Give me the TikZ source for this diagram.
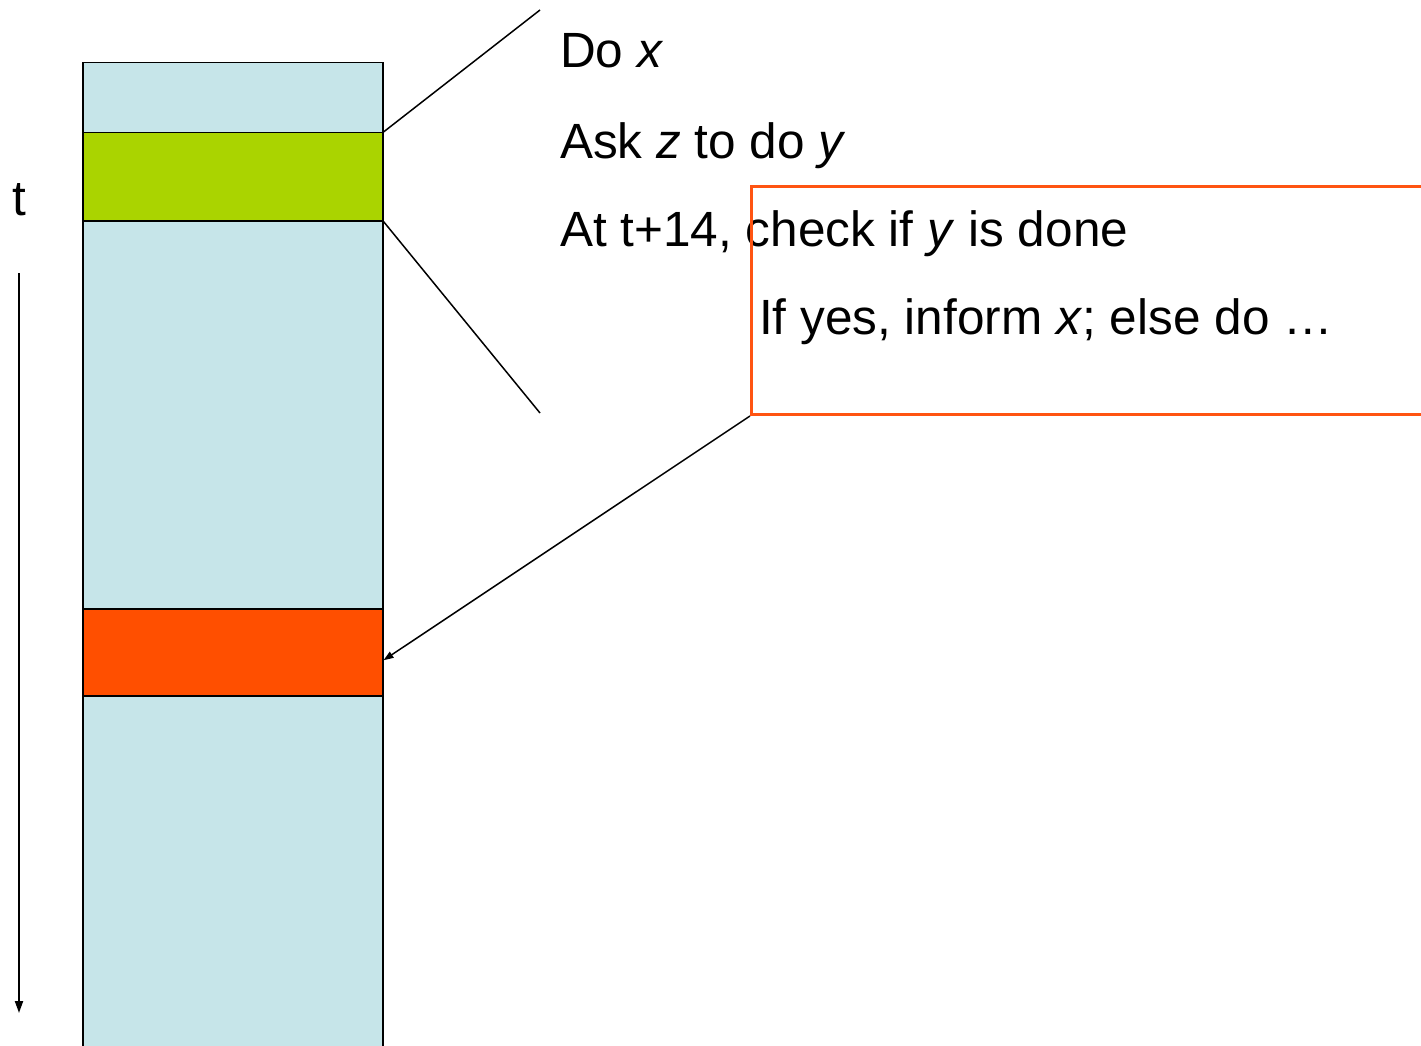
\documentclass[tikz,border=0pt]{standalone}
\usepackage{fontspec}
\setmainfont{Liberation Sans}
\usetikzlibrary{arrows.meta,positioning,calc}
\definecolor{colblue}{HTML}{C6E5E9}
\definecolor{bandgreen}{HTML}{AAD400}
\definecolor{bandred}{HTML}{FF4F00}
\definecolor{boxorange}{HTML}{FF5412}
\tikzset{
  column/.style={draw=black, line width=1.5pt, fill=colblue, rectangle, inner sep=0pt, minimum width=300pt, minimum height=1010pt, anchor=north west},
  band/.style={draw=black, line width=1.5pt, rectangle, inner sep=0pt, minimum width=300pt, minimum height=88pt, anchor=north west},
  label/.style={anchor=base west, inner sep=0pt, font=\fontsize{49.5}{58}\selectfont},
  callout/.style={draw=boxorange, line width=3pt, rectangle, inner sep=0pt, minimum width=700pt, minimum height=228pt, anchor=north west},
  thin/.style={line width=1.5pt},
  tip/.style={-{Triangle[width=8pt,length=12pt]}, line width=2pt}
}
\begin{document}
\begin{tikzpicture}[x=1pt,y=-1pt]
\useasboundingbox (0,0) rectangle (1421,1046);
\clip (0,0) rectangle (1421,1046);
\node[column] (col) at (82,62) {};
\node[band, fill=bandgreen] (green) at (82,132) {};
\node[band, fill=bandred, minimum height=87pt] (red) at (82,608) {};
\coordinate (topend) at (540,10);
\coordinate (botend) at (540,413);
\draw[thin] (green.north east) -- (topend);
\draw[thin] (green.south east) -- (botend);
\node[label] (dox) at (560,68) {Do \textit{x}};
\node[label] (ask) at (560,158) {Ask \textit{z} to do \textit{y}};
\node[label] (check) at (560,246) {At t+14, check if \textit{y} is done};
\node[callout] (box) at (750,185) {};
\node[label] (ifyes) at (759,334) {If yes, inform \textit{x}; else do …};
\coordinate (redtip) at ([yshift=-8pt]red.east);
\draw[thin, -{Triangle[width=7pt,length=10pt]}] (box.south west) -- (redtip);
\node[label] (t) at (12,215) {t};
\coordinate (tstart) at (19,273);
\coordinate (tend) at (19,1013);
\draw[tip] (tstart) -- (tend);
\end{tikzpicture}
\end{document}
